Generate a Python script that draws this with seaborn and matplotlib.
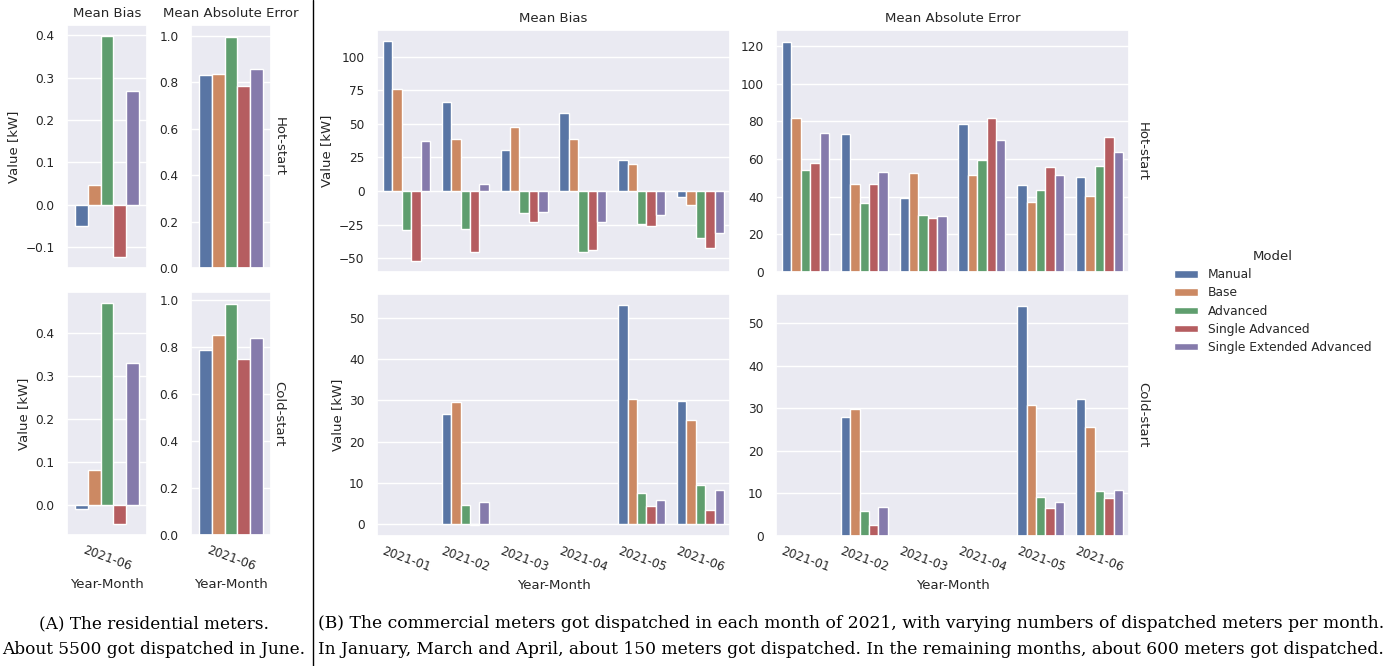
import numpy as np
import pandas as pd
import matplotlib
matplotlib.use('Agg')
import matplotlib.pyplot as plt
import matplotlib.ticker as mticker
from matplotlib.lines import Line2D
import seaborn as sns

sns.set_theme(style='darkgrid', context='notebook')
plt.rcParams['font.family'] = ['DejaVu Sans']

nan = np.nan
models = ['Manual', 'Base', 'Advanced', 'Single Advanced', 'Single Extended Advanced']
res_months = ['2021-06']
com_months = ['2021-01', '2021-02', '2021-03', '2021-04', '2021-05', '2021-06']

# residential meters, one month only (rows = month, cols = model)
res_hot_bias = [[-0.049, 0.046, 0.398, -0.123, 0.269]]
res_hot_mae = [[0.831, 0.837, 0.997, 0.785, 0.859]]
res_cold_bias = [[-0.010, 0.081, 0.470, -0.044, 0.331]]
res_cold_mae = [[0.788, 0.854, 0.986, 0.748, 0.839]]

# commercial meters
com_hot_bias = [[111.7, 75.6, -29.2, -52.1, 37.2],
                [66.6, 38.4, -28.4, -45.1, 5.0],
                [30.4, 47.6, -16.7, -23.4, -15.7],
                [57.9, 38.4, -45.6, -44.1, -23.2],
                [22.9, 20.0, -24.7, -26.2, -18.2],
                [-4.5, -10.5, -34.9, -42.6, -31.2]]
com_hot_mae = [[122.3, 81.6, 54.2, 57.6, 74.0],
               [73.4, 46.8, 36.4, 46.6, 53.0],
               [39.5, 52.6, 30.0, 28.6, 29.5],
               [78.8, 51.7, 59.6, 81.6, 70.0],
               [46.2, 37.3, 43.7, 55.6, 51.6],
               [50.5, 40.2, 56.0, 71.5, 63.8]]
com_cold_bias = [[nan, nan, nan, nan, nan],
                 [26.8, 29.5, 4.6, -0.3, 5.3],
                 [nan, nan, nan, nan, nan],
                 [nan, nan, nan, nan, nan],
                 [53.2, 30.3, 7.4, 4.3, 5.9],
                 [29.9, 25.2, 9.5, 3.3, 8.1]]
com_cold_mae = [[nan, nan, nan, nan, nan],
                [28.0, 29.9, 5.8, 2.7, 6.9],
                [nan, nan, nan, nan, nan],
                [nan, nan, nan, nan, nan],
                [54.2, 30.7, 9.2, 6.7, 8.1],
                [32.3, 25.7, 10.7, 8.9, 10.9]]


def long_form(values, months):
    rows = []
    for m, row in zip(months, values):
        for model, v in zip(models, row):
            rows.append({'Year-Month': m, 'Model': model, 'Value': v})
    return pd.DataFrame(rows)


W, H = 1386, 666
fig = plt.figure(figsize=(W / 100, H / 100), dpi=100)


def px_axes(x0, x1, y0, y1):
    return fig.add_axes([x0 / W, (H - y1) / H, (x1 - x0) / W, (y1 - y0) / H])


def draw(ax, values, months, step, top, left, row_label, title):
    df = long_form(values, months)
    sns.barplot(ax=ax, data=df, x='Year-Month', y='Value', hue='Model',
                order=months, hue_order=models, legend=False)
    ax.yaxis.set_major_locator(mticker.MultipleLocator(step))
    ax.tick_params(axis='y', labelsize=8.7, pad=3)
    ax.tick_params(axis='x', labelsize=8.7, pad=0.5)
    if top:
        ax.set_title(title, fontsize=9.5)
        ax.set_xlabel('')
        ax.set_xticklabels([])
    else:
        ax.set_xlabel('Year-Month', fontsize=9.5, labelpad=3)
        for lab in ax.get_xticklabels():
            lab.set_rotation(-20)
            lab.set_ha('center')
    ax.set_ylabel('Value [kW]' if left else '', fontsize=9.5)
    if row_label:
        ax.text(1.02, 0.5, row_label, transform=ax.transAxes, rotation=270,
                ha='left', va='center', fontsize=9.5, color='.15')


# (A) residential
draw(px_axes(67, 147, 25, 268), res_hot_bias, res_months, 0.1, True, True, None, 'Mean Bias')
draw(px_axes(191, 271, 25, 268), res_hot_mae, res_months, 0.2, True, False, 'Hot-start', 'Mean Absolute Error')
draw(px_axes(67, 147, 292, 535), res_cold_bias, res_months, 0.1, False, True, None, None)
draw(px_axes(191, 271, 292, 535), res_cold_mae, res_months, 0.2, False, False, 'Cold-start', None)

# (B) commercial
draw(px_axes(377, 730, 30, 272), com_hot_bias, com_months, 25, True, True, None, 'Mean Bias')
draw(px_axes(776, 1129, 30, 272), com_hot_mae, com_months, 20, True, False, 'Hot-start', 'Mean Absolute Error')
draw(px_axes(377, 730, 294, 536), com_cold_bias, com_months, 10, False, True, None, None)
draw(px_axes(776, 1129, 294, 536), com_cold_mae, com_months, 10, False, False, 'Cold-start', None)

# legend for the model colours
pal = sns.color_palette('deep', len(models))
handles = [plt.Rectangle((0, 0), 1, 1, facecolor=sns.desaturate(c, 0.75), edgecolor='w')
           for c in pal]
leg = fig.legend(handles, models, title='Model', loc='center left',
                 bbox_to_anchor=(1163 / W, (H - 302) / H), frameon=False,
                 fontsize=8.8, title_fontsize=9.5, handlelength=2.0,
                 handleheight=0.55, labelspacing=0.42)

# divider between (A) and (B)
fig.add_artist(Line2D([313 / W, 313 / W], [0, 1], transform=fig.transFigure,
                      color='black', lw=1.0))

# captions
cap = dict(family=['DejaVu Serif'], ha='center', va='center', color='black')
fig.text(154 / W, (H - 624) / H, '(A) The residential meters.', fontsize=12.2, **cap)
fig.text(154 / W, (H - 649) / H, 'About 5500 got dispatched in June.', fontsize=12.2, **cap)
fig.text(851 / W, (H - 624) / H,
         '(B) The commercial meters got dispatched in each month of 2021, '
         'with varying numbers of dispatched meters per month.', fontsize=12.3, **cap)
fig.text(851 / W, (H - 649) / H,
         'In January, March and April, about 150 meters got dispatched. '
         'In the remaining months, about 600 meters got dispatched.', fontsize=12.25, **cap)

fig.savefig('out.png', dpi=100)
